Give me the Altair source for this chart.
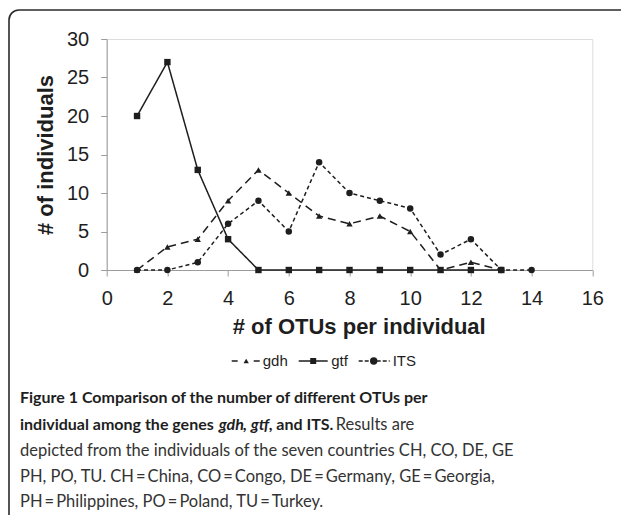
import altair as alt
import pandas as pd

# ---- data ----
otus = [1, 2, 3, 4, 5, 6, 7, 8, 9, 10, 11, 12, 13, 14]
gdh = [0, 3, 4, 9, 13, 10, 7, 6, 7, 5, 0, 1, 0]
gtf = [20, 27, 13, 4, 0, 0, 0, 0, 0, 0, 0, 0, 0]
its = [0, 0, 1, 6, 9, 5, 14, 10, 9, 8, 2, 4, 0, 0]
series = ["gdh", "gtf", "ITS"]
x_ticks = [0, 2, 4, 6, 8, 10, 12, 14, 16]
y_ticks = [0, 5, 10, 15, 20, 25, 30]

x_title = "# of OTUs per individual"
y_title = "# of individuals"

caption_bold_1 = "Figure 1 Comparison of the number of different OTUs per"
caption_2_parts = ["individual among the genes", "gdh", ",", "gtf", ", and ITS.", "Results are"]
caption_3 = "depicted from the individuals of the seven countries CH, CO, DE, GE"
caption_4 = "PH, PO, TU. CH\u2009=\u2009China, CO\u2009=\u2009Congo, DE\u2009=\u2009Germany, GE\u2009=\u2009Georgia,"
caption_5 = "PH\u2009=\u2009Philippines, PO\u2009=\u2009Poland, TU\u2009=\u2009Turkey."

rows = []
for name, vals in zip(series, [gdh, gtf, its]):
    for xv, yv in zip(otus, vals):
        rows.append({"series": name, "otu": xv, "n": yv})
df = pd.DataFrame(rows)

INK = "#1e1e1e"
GREY = "#9c9c9c"
AXF = "Liberation Sans"
CAPF = "Lato"

xs = alt.X("otu:Q", scale=alt.Scale(domain=[0, 16], nice=False),
           axis=alt.Axis(values=x_ticks, title=x_title, grid=False,
                         labelFont=AXF, labelFontSize=20, labelColor=INK,
                         labelPadding=12, tickSize=6, tickColor=GREY,
                         domainColor=GREY, labelFlush=False,
                         titleFont=AXF, titleFontSize=22, titleFontWeight="bold",
                         titleColor=INK, titleX=252, titleY=56,
                         titleBaseline="middle", titleAlign="center"))
ys = alt.Y("n:Q", scale=alt.Scale(domain=[0, 30], nice=False),
           axis=alt.Axis(values=y_ticks, title=y_title, grid=False,
                         labelFont=AXF, labelFontSize=20, labelColor=INK,
                         labelPadding=12, tickSize=6, tickColor=GREY,
                         domainColor=GREY, labelFlush=False,
                         titleFont=AXF, titleFontSize=22, titleFontWeight="bold",
                         titleColor=INK, titleX=-61, titleY=115.5,
                         titleBaseline="middle", titleAlign="center", titleAngle=270))

dash = alt.StrokeDash("series:N", scale=alt.Scale(domain=series, range=[[8, 5], [1, 0], [4, 3]]), legend=None)
shape = alt.Shape("series:N", scale=alt.Scale(domain=series, range=["triangle-up", "square", "circle"]), legend=None)
size = alt.Size("series:N", scale=alt.Scale(domain=series, range=[40, 42, 75]), legend=None)

base = alt.Chart(df)
lines = base.mark_line(color=INK, strokeWidth=1.5).encode(x=xs, y=ys, strokeDash=dash, detail="series:N")
points = base.mark_point(filled=True, color=INK, opacity=1).encode(x=xs, y=ys, shape=shape, size=size)

one = alt.Data(values=[{"k": 1}])


def txt(t, x, y, font, size, weight="normal", style="normal", color=INK):
    return alt.Chart(one).mark_text(text=t, font=font, fontSize=size, fontWeight=weight,
                                    fontStyle=style, color=color, align="left",
                                    baseline="middle").encode(x=alt.value(x), y=alt.value(y))


def rule(x, x2, y, y2, dashp=None, color=INK, w=1.5):
    kw = dict(color=color, strokeWidth=w)
    if dashp:
        kw["strokeDash"] = dashp
    return alt.Chart(one).mark_rule(**kw).encode(x=alt.value(x), x2=alt.value(x2),
                                                y=alt.value(y), y2=alt.value(y2))


def sym(shp, x, y, s):
    return alt.Chart(one).mark_point(shape=shp, filled=True, color=INK, opacity=1,
                                     size=s).encode(x=alt.value(x), y=alt.value(y))


LY = 322
legend = [
    rule(125, 153, LY, LY, [6, 16]), sym("triangle-up", 139.5, LY, 28),
    txt(series[0], 156, LY, AXF, 15),
    rule(192, 221, LY, LY), sym("square", 206.5, LY, 36),
    txt(series[1], 224.5, LY, AXF, 15),
    rule(252, 283, LY, LY, [4, 2]), sym("circle", 267, LY, 55),
    txt(series[2], 286, LY, AXF, 15),
]

CX = -86.7
BOLD_SZ = 16
REG_SZ = 16.5
REG_COL = "#333333"
L2 = 386
caption = [
    txt(caption_bold_1, CX, 359, CAPF, BOLD_SZ, "bold"),
    txt(caption_2_parts[0], CX, L2, CAPF, BOLD_SZ, "bold"),
    txt(caption_2_parts[1], 112, L2, CAPF, BOLD_SZ, "bold", "italic"),
    txt(caption_2_parts[2], 136, L2, CAPF, BOLD_SZ, "bold"),
    txt(caption_2_parts[3], 144, L2, CAPF, BOLD_SZ, "bold", "italic"),
    txt(caption_2_parts[4], 162, L2, CAPF, BOLD_SZ, "bold"),
    txt(caption_2_parts[5], 229, L2, CAPF, REG_SZ, color=REG_COL),
    txt(caption_3, CX, 412, CAPF, REG_SZ, color=REG_COL),
    txt(caption_4, CX, 438, CAPF, REG_SZ, color=REG_COL),
    txt(caption_5, CX, 463, CAPF, REG_SZ, color=REG_COL),
]

frame = [
    rule(-97.7, -97.7, -19, 500, color="#2a2a2a", w=1.6),
    rule(-87.7, 530, -29, -29, color="#2a2a2a", w=1.6),
    alt.Chart(one).mark_arc(theta=4.7124, theta2=6.2832, outerRadius=10.8, innerRadius=9.2,
                            color="#2a2a2a").encode(x=alt.value(-87.7), y=alt.value(-19)),
]

chart = alt.layer(lines, points, *legend, *caption, *frame).properties(
    width=485.6, height=231,
    autosize=alt.AutoSizeParams(type="none"),
    padding={"left": 98.7, "top": 31, "right": 28.7, "bottom": 245},
).configure_view(stroke=None).configure(background="white")

chart.save("out.html", embed_options={"renderer": "svg", "actions": False})
